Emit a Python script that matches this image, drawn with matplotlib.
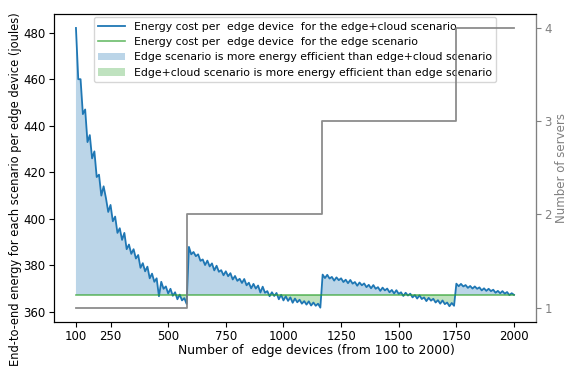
import matplotlib
matplotlib.use("Agg")
import matplotlib.pyplot as plt

# number of edge devices, sampled every 10
devices = list(range(100, 2001, 10))

# energy per edge device, edge+cloud scenario
seg1 = [482, 460, 460, 445, 447, 433, 436, 426, 429, 418,
        419, 410, 414, 409, 403, 406, 399, 401, 394, 396,
        391, 394, 387, 389, 385, 387, 383, 384.5, 379, 381,
        377.5, 379.5, 374.5, 376.5, 373, 374.5, 366.8, 373, 370, 371,
        368, 370, 367, 368.5, 365.5, 367.5, 365, 366, 363.5]
seg2 = [388, 384.8, 385.8, 384, 384.8, 382, 382.6, 380.2, 382.1, 379.6,
        380.9, 377.9, 379.9, 377.3, 378, 375.8, 377.5, 375.4, 376.7, 374,
        375.5, 373.4, 374.3, 372.5, 374.2, 371.5, 372.6, 370.2, 372.1, 370.1,
        371.4, 368.4, 370.9, 368.3, 369, 366.8, 368.5, 366.9, 368.2, 365.5,
        367.4, 365, 366.8, 364.8, 366.3, 364, 365.8, 364.2, 365.3, 363.6,
        364.7, 363.2, 364.6, 362.8, 364.1, 362.7, 363.6, 361.9]
seg3 = [376.1, 374.6, 376.0, 374.4, 375.1, 373.5, 374.9, 373.7, 374.5, 372.9,
        373.9, 372.4, 373.8, 372.2, 372.9, 371.3, 372.7, 371.5, 372.3, 370.7,
        371.7, 370.2, 371.6, 370.0, 370.7, 369.1, 370.5, 369.3, 370.1, 368.5,
        369.5, 368.0, 369.4, 367.8, 368.5, 366.9, 368.3, 367.1, 367.9, 366.3,
        367.3, 365.8, 367.2, 365.6, 366.3, 364.7, 366.1, 364.9, 365.7, 364.1,
        365.1, 363.6, 365.0, 363.4, 364.1, 362.5, 363.9, 362.7]
seg4 = [372.2, 371.1, 372.1, 371.0, 371.6, 370.4, 371.2, 370.1, 371.0, 370.0,
        370.6, 369.3, 370.2, 369.1, 370.0, 369.0, 369.6, 368.3, 369.1, 368.1,
        369.0, 367.9, 368.6, 367.3, 368.1, 367.4]
cloud_energy = seg1 + seg2 + seg3 + seg4

# energy per edge device, edge-only scenario (flat)
edge_level = 367.4
edge_energy = [edge_level for _ in devices]

# number of servers
server_x = [100, 583, 1166, 1750, 2000]
servers = [1, 2, 3, 4, 4]

fig, ax = plt.subplots(figsize=(5.75, 3.68), dpi=100)
fig.subplots_adjust(left=0.094, right=0.932, top=0.962, bottom=0.126)

ax.plot(devices, cloud_energy, color="#1f77b4", lw=1.3,
        label="Energy cost per  edge device  for the edge+cloud scenario")
ax.plot(devices, edge_energy, color="#2ca02c", lw=1.2, alpha=0.7,
        label="Energy cost per  edge device  for the edge scenario")
ax.fill_between(devices, cloud_energy, edge_energy,
                where=[c >= e for c, e in zip(cloud_energy, edge_energy)],
                interpolate=True, color="#1f77b4", alpha=0.3, lw=0,
                label="Edge scenario is more energy efficient than edge+cloud scenario")
ax.fill_between(devices, cloud_energy, edge_energy,
                where=[c < e for c, e in zip(cloud_energy, edge_energy)],
                interpolate=True, color="#2ca02c", alpha=0.3, lw=0,
                label="Edge+cloud scenario is more energy efficient than edge scenario")

ax.set_xticks([100, 250, 500, 750, 1000, 1250, 1500, 1750, 2000])
ax.set_yticks([360, 380, 400, 420, 440, 460, 480])
ax.tick_params(labelsize=8.5, length=3.5, pad=2.5)
ax.set_xlabel("Number of  edge devices (from 100 to 2000)", fontsize=8.9)
ax.xaxis.set_label_coords(0.544, -0.072)
ax.set_ylabel("End-to-end energy for each scenario per edge device (joules)",
              fontsize=8.3)
ax.yaxis.set_label_coords(-0.066, 0.431)
ax.legend(loc="upper center", fontsize=7.8, handlelength=2.5, borderaxespad=0.3)

# servers on the right axis
ax2 = ax.twinx()
ax2.plot(server_x, servers, drawstyle="steps-post", color="gray", lw=1.3, alpha=0.9)
ax2.set_yticks([1, 2, 3, 4])
ax2.tick_params(labelsize=8.5, colors="gray", length=3.5, pad=2.5)
ax2.set_ylabel("Number of servers", fontsize=8.5, color="gray", labelpad=2)
ax2.spines["right"].set_color("gray")

fig.savefig("out.png", dpi=100)
